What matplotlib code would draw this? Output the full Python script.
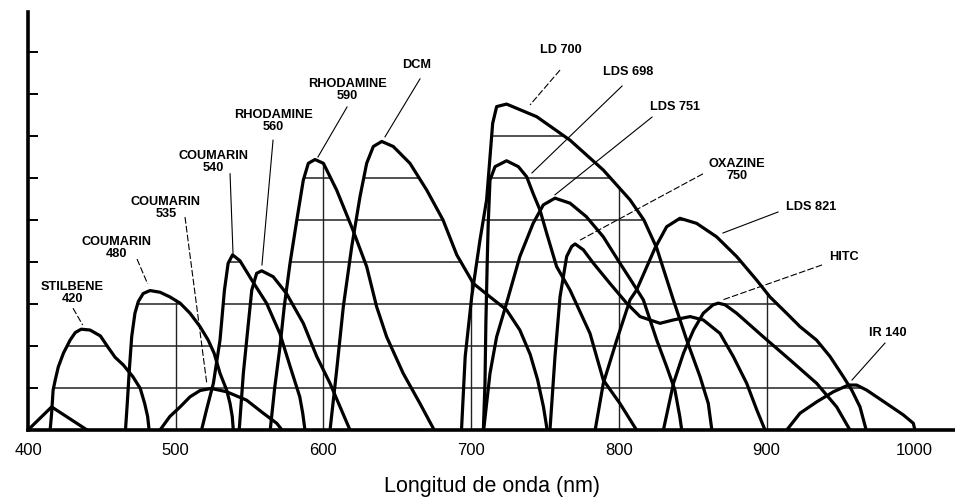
import matplotlib.pyplot as plt
import numpy as np

plt.rcParams['font.family'] = ['Liberation Sans', 'DejaVu Sans']

# tuning curves: wavelength (nm) and relative output
uv_nm = [400, 416, 440]
uv_out = [0, 0.55, 0]

stilbene_nm = [415, 416, 417, 418.5, 420.5, 424, 428.5, 432, 436, 442, 449, 454,
               459, 464.5, 471, 476, 479, 481, 482]
stilbene_out = [0, 0.4, 0.95, 1.2, 1.5, 1.83, 2.14, 2.32, 2.40, 2.38, 2.24, 1.98,
                1.73, 1.55, 1.27, 0.99, 0.63, 0.32, 0]

c480_nm = [466, 467.2, 468.6, 470.2, 472.4, 474.7, 478, 482.6, 489.4, 496, 503,
           509.7, 516.5, 522, 526, 530, 534.5, 536.8, 538.3, 539]
c480_out = [0, 0.63, 1.43, 2.22, 2.78, 3.06, 3.25, 3.32, 3.28, 3.17, 3.02,
            2.78, 2.46, 2.14, 1.83, 1.35, 0.95, 0.63, 0.32, 0]

c535_nm = [489.4, 496, 503, 509.7, 516.5, 524, 534.5, 548, 559.3, 568.4, 572]
c535_out = [0, 0.32, 0.55, 0.79, 0.94, 0.99, 0.91, 0.71, 0.40, 0.16, 0]

c540_nm = [517.5, 521, 525.5, 530, 533, 535.5, 538.5, 543.5, 551.5, 561.5, 570.5,
           577.5, 584, 586, 587.5]
c540_out = [0, 0.5, 1.11, 2.14, 3.33, 3.97, 4.17, 4.03, 3.57, 3.02, 2.30,
            1.51, 0.79, 0.4, 0]

r560_nm = [543, 545.8, 549.2, 551.5, 554.8, 558.2, 566, 575, 586.4, 595.5, 604.5,
           611.3, 618]
r560_out = [0, 1.35, 2.54, 3.33, 3.73, 3.79, 3.65, 3.25, 2.54, 1.75, 1.11, 0.55, 0]

r590_nm = [564, 567, 570.6, 573.5, 577.4, 582, 586.4, 589.8, 594.3, 600, 609, 620,
           629.3, 636, 642.8, 654, 665.4, 675]
r590_out = [0, 1.0, 1.98, 2.94, 3.97, 5.0, 5.95, 6.35, 6.44, 6.35, 5.71, 4.76,
            3.89, 2.94, 2.22, 1.35, 0.63, 0]

dcm_nm = [604.5, 609, 613.5, 619.2, 624.8, 629.3, 633.8, 639.5, 647.3, 658.6, 670,
          681, 690.3, 701.5, 712.8, 724, 733, 740, 745, 749, 751.5]
dcm_out = [0, 1.43, 2.94, 4.37, 5.56, 6.35, 6.75, 6.87, 6.75, 6.35, 5.71,
           5.0, 4.17, 3.49, 3.17, 2.86, 2.38, 1.8, 1.2, 0.55, 0]

ld700_nm = [693.5, 696, 700.4, 706, 710.5, 712.8, 714.6, 717.3, 724, 744.4, 767,
            789.5, 807.6, 817, 825.7, 836.9, 846, 855, 860.6, 863]
ld700_out = [0, 1.75, 3.17, 4.52, 5.48, 6.5, 7.3, 7.7, 7.76, 7.46, 6.9,
             6.19, 5.48, 5.0, 4.33, 3.10, 2.14, 1.27, 0.63, 0]

lds698_nm = [708.3, 709.4, 710, 711, 711.6, 712.8, 716.2, 724, 732, 737.6, 742,
             746.6, 751.2, 757.9, 767, 780.5, 789.5, 800.8, 812]
lds698_out = [0, 1.11, 2.54, 4.13, 4.92, 5.95, 6.27, 6.41, 6.27, 6.03, 5.63,
              5.24, 4.68, 3.89, 3.33, 2.30, 1.19, 0.63, 0]

lds751_nm = [708.5, 712.8, 717.3, 724, 733, 742, 748.9, 756.8, 767, 778, 789.5,
             800.8, 807.6, 816.6, 825.7, 832.4, 838, 841.3, 842.6]
lds751_out = [0, 1.35, 2.22, 3.02, 4.13, 4.92, 5.36, 5.52, 5.40, 5.08, 4.60,
              3.97, 3.6, 3.10, 2.14, 1.51, 0.95, 0.32, 0]

ox750_nm = [753.4, 756.8, 760.2, 764.7, 768.1, 770.4, 776, 782.8, 794, 805.3, 814.4,
            827.9, 836.9, 848.3, 857.2, 868.5, 877.5, 886.6, 893.4, 899]
ox750_out = [0, 1.75, 3.17, 4.13, 4.37, 4.43, 4.29, 3.97, 3.49, 3.02, 2.70,
             2.54, 2.62, 2.70, 2.62, 2.30, 1.75, 1.11, 0.48, 0]

lds821_nm = [784, 789.5, 798.6, 807.6, 812, 824.5, 832.4, 841.4, 852.7, 866.2, 879.8,
             893.3, 902.3, 913.6, 922.7, 933.9, 943, 952, 957.7, 963.3, 967.5]
lds821_out = [0, 1.11, 2.14, 3.10, 3.33, 4.33, 4.84, 5.04, 4.92, 4.60, 4.13,
              3.57, 3.17, 2.78, 2.46, 2.14, 1.75, 1.27, 0.95, 0.55, 0]

hitc_nm = [830.2, 837, 843.8, 850.6, 857.2, 863.8, 867.4, 872, 879.8, 897.8, 915.9,
           934, 947.5, 956.5]
hitc_out = [0, 1.11, 1.83, 2.38, 2.78, 2.98, 3.02, 2.98, 2.78, 2.22, 1.67,
            1.11, 0.55, 0]

ir140_nm = [913.7, 922.7, 934, 945.3, 955.4, 961, 967.8, 981.3, 992.6, 999.4, 1000.5]
ir140_out = [0, 0.4, 0.67, 0.91, 1.07, 1.07, 0.95, 0.63, 0.36, 0.16, 0]

curves = [
    (uv_nm, uv_out), (stilbene_nm, stilbene_out), (c480_nm, c480_out),
    (c535_nm, c535_out), (c540_nm, c540_out), (r560_nm, r560_out),
    (r590_nm, r590_out), (dcm_nm, dcm_out), (ld700_nm, ld700_out),
    (lds698_nm, lds698_out), (lds751_nm, lds751_out), (ox750_nm, ox750_out),
    (lds821_nm, lds821_out), (hitc_nm, hitc_out), (ir140_nm, ir140_out),
]

# label text, text centre, leader line start/end, dashed leader
labels = [
    ('STILBENE\n420', (430, 3.26), (430.5, 2.90), (437, 2.50), True),
    ('COUMARIN\n480', (459.6, 4.33), (473.8, 4.07), (481, 3.48), True),
    ('COUMARIN\n535', (493.4, 5.29), (506.3, 5.07), (521, 1.12), True),
    ('COUMARIN\n540', (525.3, 6.38), (536.8, 6.10), (538.8, 4.21), False),
    ('RHODAMINE\n560', (565.9, 7.36), (565.9, 6.90), (558.4, 3.93), False),
    ('RHODAMINE\n590', (616, 8.10), (616, 7.69), (596.3, 6.5), False),
    ('DCM', (663.4, 8.69), (665.4, 8.36), (641.7, 6.98), False),
    ('LD 700', (760.9, 9.05), (760.2, 8.57), (739.9, 7.74), True),
    ('LDS 698', (806.2, 8.52), (802.2, 8.19), (741.2, 6.12), False),
    ('LDS 751', (838, 7.69), (822.5, 7.45), (756.8, 5.6), False),
    ('OXAZINE\n750', (880, 6.19), (857, 6.10), (773.7, 4.52), True),
    ('LDS 821', (930.1, 5.31), (907.8, 5.19), (870.5, 4.69), False),
    ('HITC', (952.5, 4.12), (937.6, 3.93), (870.5, 3.1), True),
    ('IR 140', (982.3, 2.31), (980.2, 2.07), (957.9, 1.19), False),
]

fig = plt.figure(figsize=(9.55, 4.98), dpi=100)
ax = fig.add_axes([28 / 955, 68 / 498, 927 / 955, 418 / 498])
ax.set_xlim(400, 400 + 927 / 1.477)
ax.set_ylim(0, 418 / 42)

# grid only inside the area covered by the curves
grid_x = np.arange(400, 1001, 0.25)
env = np.zeros_like(grid_x)
for nm, out in curves:
    env = np.maximum(env, np.interp(grid_x, nm, out, left=0, right=0))

for level in range(1, 10):
    inside = np.concatenate([[False], env >= level, [False]])
    edges = np.flatnonzero(np.diff(inside.astype(int)))
    for start, stop in zip(edges[::2], edges[1::2]):
        ax.plot([grid_x[start], grid_x[stop - 1]], [level, level],
                color='#222222', lw=1.1, zorder=1)
for xv in range(500, 1000, 100):
    ax.plot([xv, xv], [0, np.interp(xv, grid_x, env)], color='#222222', lw=1.0, zorder=1)

for nm, out in curves:
    ax.plot(nm, out, color='black', lw=2.3, solid_joinstyle='round',
            solid_capstyle='round', zorder=3)

for text, pos, start, end, dashed in labels:
    ax.text(pos[0], pos[1], text, ha='center', va='center', fontsize=9.2,
            fontweight='bold', linespacing=1.0, zorder=4)
    ax.plot([start[0], end[0]], [start[1], end[1]], color='black', lw=0.8,
            ls=(0, (6, 2)) if dashed else '-', zorder=2)

ax.spines['top'].set_visible(False)
ax.spines['right'].set_visible(False)
ax.spines['left'].set_linewidth(2.6)
ax.spines['bottom'].set_linewidth(2.6)

ax.set_xticks(range(400, 1001, 100))
ax.tick_params(axis='x', length=0, pad=9, labelsize=12)
ax.set_yticks(range(1, 10))
ax.tick_params(axis='y', direction='in', length=7, width=1.4, labelleft=False)
ax.set_xlabel('Longitud de onda (nm)', fontsize=15.5, labelpad=13)

fig.savefig('out.png', dpi=100)
